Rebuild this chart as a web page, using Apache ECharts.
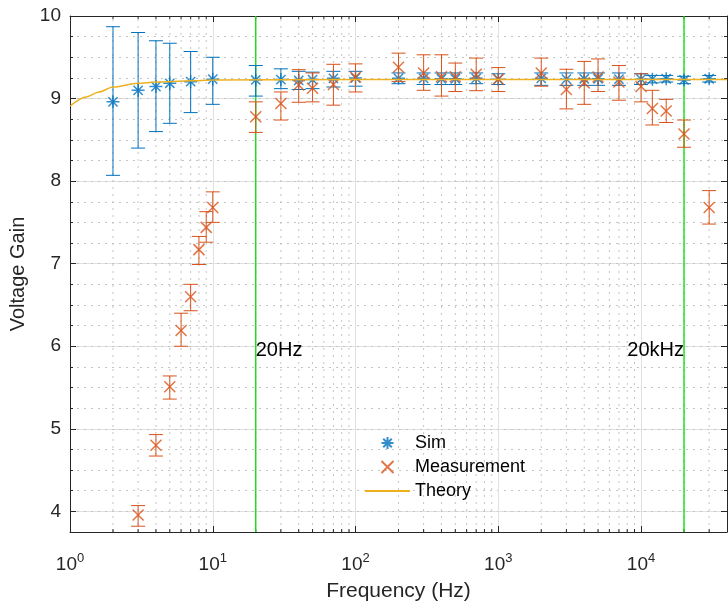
<!DOCTYPE html>
<html>
<head>
<meta charset="utf-8">
<script src="https://cdn.jsdelivr.net/npm/echarts@6/dist/echarts.min.js"></script>
<style>
  html, body { margin: 0; padding: 0; background: #fff; }
  #chart { width: 728px; height: 602px; }
</style>
</head>
<body>
<div id="chart"></div>
<script>
// simulated gain with error range
const simFreq = [2, 3, 4, 5, 7, 10, 20, 30, 40, 50, 70, 100, 200, 300, 400, 500, 700, 1000,
  2000, 3000, 4000, 5000, 7000, 10000, 12000, 15000, 20000, 30000];
const simGain = [8.96, 9.10, 9.145, 9.185, 9.205, 9.235, 9.225, 9.23, 9.22, 9.23, 9.245, 9.25, 9.245, 9.245, 9.24, 9.24, 9.245, 9.235,
  9.245, 9.235, 9.24, 9.24, 9.235, 9.235, 9.235, 9.24, 9.225, 9.24];
const simLow = [8.07, 8.40, 8.60, 8.70, 8.83, 8.93, 9.03, 9.12, 9.11, 9.12, 9.14, 9.15, 9.18, 9.17, 9.17, 9.17, 9.18, 9.17,
  9.16, 9.16, 9.16, 9.16, 9.16, 9.17, 9.19, 9.20, 9.18, 9.20];
const simHigh = [9.87, 9.80, 9.70, 9.67, 9.57, 9.50, 9.40, 9.36, 9.33, 9.32, 9.33, 9.33, 9.31, 9.31, 9.31, 9.31, 9.31, 9.30,
  9.31, 9.31, 9.31, 9.31, 9.31, 9.30, 9.28, 9.28, 9.27, 9.28];

// measured gain with error range
const measFreq = [3, 4, 5, 6, 7, 8, 9, 10, 20, 30, 40, 50, 70, 100, 200, 300, 400, 500, 700, 1000,
  2000, 3000, 4000, 5000, 7000, 10000, 12000, 15000, 20000, 30000];
const measGain = [3.956, 4.80, 5.51, 6.19, 6.60, 7.17, 7.44, 7.68, 8.78, 8.94, 9.165, 9.125, 9.17, 9.26, 9.38, 9.31, 9.265, 9.265, 9.295, 9.235,
  9.31, 9.11, 9.19, 9.26, 9.20, 9.145, 8.88, 8.85, 8.57, 7.68];
const measLow = [3.82, 4.67, 5.36, 6.00, 6.43, 6.99, 7.26, 7.50, 8.59, 8.74, 8.955, 8.96, 8.92, 9.08, 9.205, 9.10, 9.03, 9.085, 9.095, 9.085,
  9.15, 8.875, 8.93, 9.085, 8.98, 8.96, 8.68, 8.71, 8.41, 7.48];
const measHigh = [4.07, 4.93, 5.64, 6.40, 6.75, 7.33, 7.63, 7.87, 8.96, 9.08, 9.35, 9.31, 9.415, 9.42, 9.55, 9.53, 9.53, 9.43, 9.49, 9.375,
  9.49, 9.355, 9.45, 9.48, 9.40, 9.30, 9.10, 8.99, 8.74, 7.885];

// theory curve
const theoryFreq = [1, 1.3, 1.6, 2, 3, 4, 7, 10, 100, 1000, 10000, 40000];
const theoryGain = [8.91, 9.02, 9.08, 9.14, 9.185, 9.20, 9.215, 9.225, 9.23, 9.23, 9.23, 9.23];

// band limit markers
const bandFreq = [20, 20000];
const bandLabel = ['20Hz', '20kHz'];
const bandLabelY = 5.95;

const xMin = 1, xMax = 40000;
const yMin = 3.75, yMax = 10;

const FONT = '"Liberation Sans", Helvetica, Arial, sans-serif';
const AXIS = '#262626';
const BLUE = '#0072BD';
const ORANGE = '#D95319';
const YELLOW = '#EDB120';
const GREEN = '#10e010';

// minor log positions 2..9 per decade
const minorX = [];
for (let d = 1; d < xMax; d *= 10) {
  for (let k = 2; k <= 9; k++) {
    if (k * d < xMax) minorX.push(k * d);
  }
}

const chart = echarts.init(document.getElementById('chart'));

function errorBars(color) {
  return function (params, api) {
    const x = api.value(0);
    const top = api.coord([x, api.value(2)]);
    const bot = api.coord([x, api.value(1)]);
    const w = 7;
    const style = { stroke: color, lineWidth: 1, fill: null };
    return {
      type: 'group',
      children: [
        { type: 'line', shape: { x1: top[0], y1: top[1], x2: bot[0], y2: bot[1] }, style: style },
        { type: 'line', shape: { x1: top[0] - w, y1: top[1], x2: top[0] + w, y2: top[1] }, style: style },
        { type: 'line', shape: { x1: bot[0] - w, y1: bot[1], x2: bot[0] + w, y2: bot[1] }, style: style }
      ]
    };
  };
}

const logAxisBase = {
  type: 'log',
  logBase: 10,
  min: xMin,
  max: xMax,
  axisLine: { show: true, lineStyle: { color: AXIS, width: 1 } },
  axisTick: { show: true, inside: true, length: 6, lineStyle: { color: AXIS } }
};

const valueAxisBase = {
  type: 'value',
  min: yMin,
  max: yMax,
  axisLine: { show: true, lineStyle: { color: AXIS, width: 1 } }
};

chart.setOption({
  animation: false,
  textStyle: { fontFamily: FONT },
  grid: { left: 70, right: 1, top: 16, bottom: 70, containLabel: false, outerBoundsMode: 'none' },
  legend: {
    left: 364,
    top: 434,
    orient: 'vertical',
    padding: 0,
    itemWidth: 45,
    itemHeight: 12,
    itemGap: 6,
    textStyle: { fontSize: 18, color: '#000', fontFamily: FONT },
    data: ['Sim', 'Measurement', { name: 'Theory', itemStyle: { opacity: 0 } }]
  },
  xAxis: [
    Object.assign({}, logAxisBase, {
      position: 'bottom',
      name: 'Frequency (Hz)',
      nameLocation: 'middle',
      nameGap: 49,
      nameTextStyle: { fontSize: 21, color: AXIS, fontFamily: FONT },
      splitLine: { show: true, lineStyle: { color: '#e0e0e0', width: 1 } },
      axisLabel: {
        margin: 20,
        color: AXIS,
        fontSize: 19,
        fontFamily: FONT,
        showMaxLabel: false,
        formatter: function (v) {
          const e = Math.log10(v);
          if (Math.abs(e - Math.round(e)) > 1e-6) return '';
          return '{b|10}{sup|' + Math.round(e) + '}';
        },
        rich: {
          b: { fontSize: 19, color: AXIS, fontFamily: FONT },
          sup: { fontSize: 13, color: AXIS, fontFamily: FONT, padding: [0, 0, 12, 0] }
        }
      }
    }),
    Object.assign({}, logAxisBase, {
      position: 'top',
      axisLabel: { show: false },
      splitLine: { show: false }
    })
  ],
  yAxis: [
    Object.assign({}, valueAxisBase, {
      position: 'left',
      name: 'Voltage Gain',
      nameLocation: 'middle',
      nameGap: 34,
      nameTextStyle: { fontSize: 20, color: AXIS, fontFamily: FONT },
      axisTick: { show: true, inside: true, length: 6, lineStyle: { color: AXIS } },
      splitLine: { show: true, lineStyle: { color: '#e0e0e0', width: 1 } },
      axisLabel: {
        margin: 9,
        color: AXIS,
        fontSize: 19,
        fontFamily: FONT,
        formatter: function (v) {
          return Math.abs(v - Math.round(v)) < 1e-6 ? String(Math.round(v)) : '';
        }
      }
    }),
    Object.assign({}, valueAxisBase, {
      position: 'left',
      interval: 0.25,
      axisLine: { show: false },
      axisLabel: { show: false },
      axisTick: { show: true, inside: true, length: 3, lineStyle: { color: AXIS } },
      splitLine: { show: true, lineStyle: { color: '#c4c4c4', width: 1, type: [2, 5] } }
    }),
    Object.assign({}, valueAxisBase, {
      position: 'right',
      axisLabel: { show: false },
      axisTick: { show: true, inside: true, length: 6, lineStyle: { color: AXIS } },
      splitLine: { show: false }
    }),
    Object.assign({}, valueAxisBase, {
      position: 'right',
      interval: 0.25,
      axisLine: { show: false },
      axisLabel: { show: false },
      axisTick: { show: true, inside: true, length: 3, lineStyle: { color: AXIS } },
      splitLine: { show: false }
    })
  ],
  series: [
    {
      // minor log grid + minor ticks
      name: 'minor',
      type: 'custom',
      silent: true,
      z: 1,
      data: minorX.map(function (v) { return [v, yMin]; }),
      renderItem: function (params, api) {
        const x = api.value(0);
        const p0 = api.coord([x, yMin]);
        const p1 = api.coord([x, yMax]);
        return {
          type: 'group',
          children: [
            { type: 'line', shape: { x1: p0[0], y1: p0[1], x2: p1[0], y2: p1[1] },
              style: { stroke: '#c4c4c4', lineWidth: 1, lineDash: [2, 5] } },
            { type: 'line', shape: { x1: p0[0], y1: p0[1], x2: p0[0], y2: p0[1] - 3 },
              style: { stroke: AXIS, lineWidth: 1 } },
            { type: 'line', shape: { x1: p1[0], y1: p1[1], x2: p1[0], y2: p1[1] + 3 },
              style: { stroke: AXIS, lineWidth: 1 } }
          ]
        };
      }
    },
    {
      // 20Hz / 20kHz lines
      name: 'band',
      type: 'custom',
      silent: true,
      z: 2,
      data: bandFreq.map(function (f) { return [f, bandLabelY]; }),
      renderItem: function (params, api) {
        const x = api.value(0);
        const p0 = api.coord([x, yMin]);
        const p1 = api.coord([x, yMax]);
        const t = api.coord([x, api.value(1)]);
        const right = params.dataIndex === bandFreq.length - 1;
        return {
          type: 'group',
          children: [
            { type: 'line', shape: { x1: p0[0], y1: p0[1], x2: p1[0], y2: p1[1] },
              style: { stroke: GREEN, lineWidth: 1.4 } },
            { type: 'text', x: t[0], y: t[1],
              style: { text: bandLabel[params.dataIndex], fill: '#000', fontSize: 20, fontFamily: FONT,
                align: right ? 'right' : 'left', verticalAlign: 'middle' } }
          ]
        };
      }
    },
    {
      name: 'simErr',
      type: 'custom',
      z: 3,
      data: simFreq.map(function (f, i) { return [f, simLow[i], simHigh[i]]; }),
      encode: { x: 0, y: [1, 2] },
      renderItem: errorBars(BLUE)
    },
    {
      name: 'Sim',
      type: 'scatter',
      z: 4,
      symbol: 'path://M5 0L5 10M0 5L10 5M1.46 1.46L8.54 8.54M8.54 1.46L1.46 8.54',
      symbolSize: 13,
      itemStyle: { color: 'rgba(0,0,0,0)', borderColor: BLUE, borderWidth: 1.5 },
      data: simFreq.map(function (f, i) { return [f, simGain[i]]; })
    },
    {
      name: 'measErr',
      type: 'custom',
      z: 5,
      data: measFreq.map(function (f, i) { return [f, measLow[i], measHigh[i]]; }),
      encode: { x: 0, y: [1, 2] },
      renderItem: errorBars(ORANGE)
    },
    {
      name: 'Measurement',
      type: 'scatter',
      z: 6,
      symbol: 'path://M0 0L10 10M10 0L0 10',
      symbolSize: 11,
      itemStyle: { color: 'rgba(0,0,0,0)', borderColor: ORANGE, borderWidth: 1.5 },
      data: measFreq.map(function (f, i) { return [f, measGain[i]]; })
    },
    {
      name: 'Theory',
      type: 'line',
      z: 7,
      symbol: 'none',
      smooth: 0.3,
      smoothMonotone: 'x',
      lineStyle: { color: YELLOW, width: 1.5 },
      itemStyle: { color: YELLOW },
      data: theoryFreq.map(function (f, i) { return [f, theoryGain[i]]; })
    }
  ]
});
</script>
</body>
</html>
